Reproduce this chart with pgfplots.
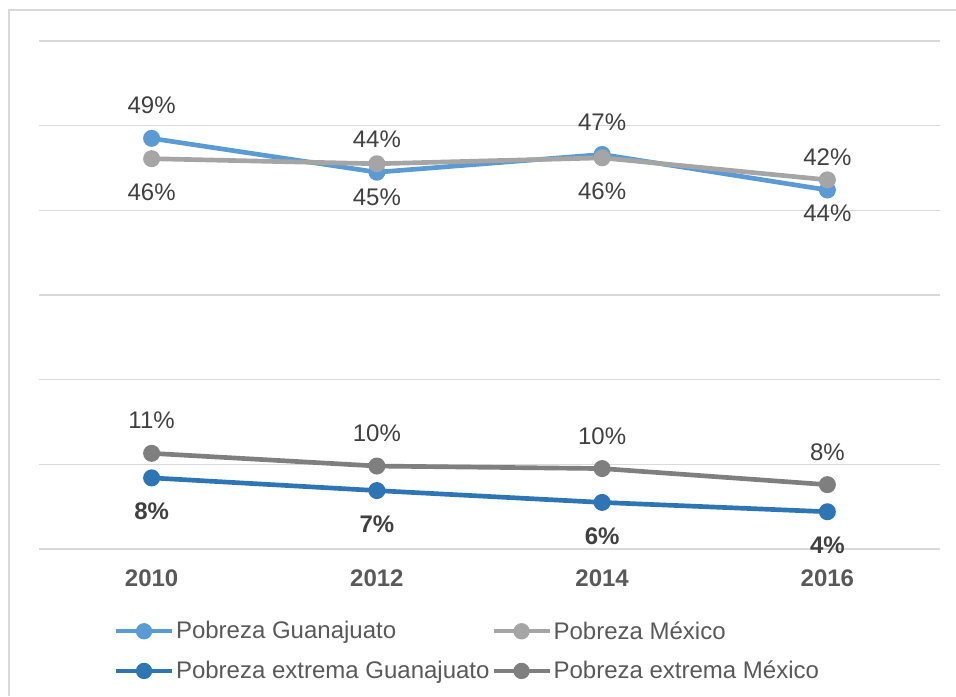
\documentclass[border=0pt]{standalone}
\usepackage{fontspec}
\setmainfont{Liberation Sans}
\usepackage{pgfplots}
\pgfplotsset{compat=1.18}
\definecolor{pobgto}{HTML}{5B9BD5}
\definecolor{pobmex}{HTML}{A5A5A5}
\definecolor{extgto}{HTML}{2E75B6}
\definecolor{extmex}{HTML}{7F7F7F}
\definecolor{gridgray}{HTML}{D9D9D9}
\definecolor{labtxt}{HTML}{404040}
\definecolor{axtxt}{HTML}{595959}
\pgfplotsset{
  serie/.style={line width=3.5pt, mark=*, mark size=4.6pt,
    mark options={solid}, nodes near coords, point meta=explicit symbolic,
    every node near coord/.append style={anchor=center, text=labtxt,
      font=\fontsize{18}{21.6}\selectfont}},
  above lab/.style={every node near coord/.append style={yshift=24.5pt}},
  below lab/.style={every node near coord/.append style={yshift=-25pt}},
}
\begin{document}
\begin{tikzpicture}
\useasboundingbox (0,0) rectangle (717pt,522pt);
\begin{axis}[
  at={(29.25pt,110.25pt)}, anchor=south west,
  scale only axis, width=675.75pt, height=381pt,
  xmin=-0.5, xmax=3.5, ymin=0, ymax=60,
  xtick={0,1,2,3}, xticklabels={2010,2012,2014,2016},
  ytick={0,10,...,60}, yticklabels={},
  ymajorgrids, grid style={draw=gridgray, line width=1.1pt},
  axis line style={draw=none}, major tick length=0pt,
  xticklabel style={anchor=center, yshift=-21.75pt, text=axtxt,
    font=\fontsize{18}{21.6}\selectfont\bfseries},
  clip=false,
  legend columns=2,
  legend style={at={(axis description cs:0.083,-0.201)}, anchor=west,
    draw=none, fill=none, inner sep=0pt, text=axtxt,
    font=\fontsize{18}{21.6}\selectfont,
    nodes={inner sep=1.5pt}, /tikz/row sep=12pt},
  legend cell align=left,
  legend image code/.code={\draw[#1, line width=3pt, mark repeat=2, mark phase=2]
    plot coordinates {(0pt,0pt) (21pt,0pt) (42pt,0pt)};},
]
\addplot[serie, pobgto, above lab] coordinates {
  (0,48.5) [49\%] (1,44.5) [44\%] (2,46.6) [47\%] (3,42.4) [42\%]};
\addlegendentry{Pobreza Guanajuato}
\addplot[serie, pobmex, below lab] coordinates {
  (0,46.1) [46\%] (1,45.5) [45\%] (2,46.2) [46\%] (3,43.6) [44\%]};
\addlegendentry{Pobreza México}
\addplot[serie, extgto, below lab,
  every node near coord/.append style={font=\fontsize{18}{21.6}\selectfont\bfseries}] coordinates {
  (0,8.4) [8\%] (1,6.9) [7\%] (2,5.5) [6\%] (3,4.4) [4\%]};
\addlegendentry{Pobreza extrema Guanajuato}
\addplot[serie, extmex, above lab] coordinates {
  (0,11.3) [11\%] (1,9.8) [10\%] (2,9.5) [10\%] (3,7.6) [8\%]};
\addlegendentry{Pobreza extrema México}
\end{axis}
\draw[gridgray, line width=1.5pt] (7.1pt,0pt) -- (7.1pt,514.5pt) -- (717pt,514.5pt);
\end{tikzpicture}
\end{document}
